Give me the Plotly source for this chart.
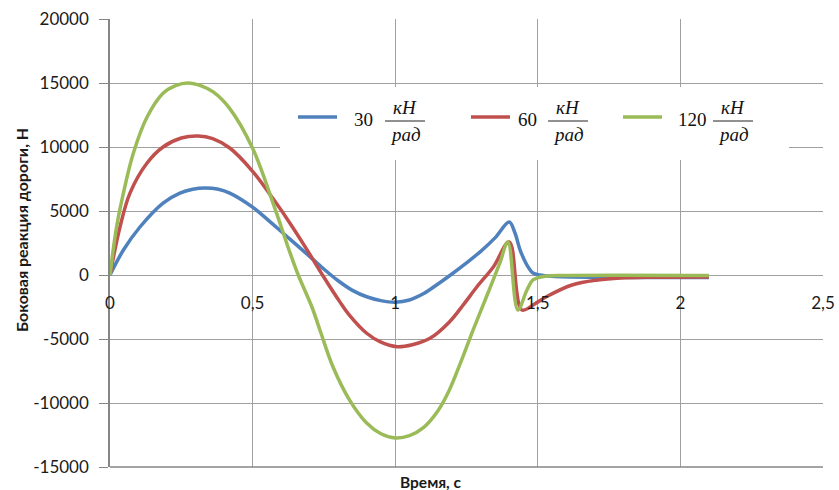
import plotly.graph_objects as go

# ---- data ----
t_30 = [0, 0.047, 0.105, 0.186, 0.245, 0.29, 0.333, 0.38, 0.42, 0.5, 0.572, 0.631, 0.69, 0.748,
        0.80, 0.85, 0.90, 0.95, 1.0, 1.05, 1.10, 1.15, 1.20, 1.25, 1.30, 1.35, 1.40, 1.42, 1.438,
        1.462, 1.483, 1.507, 1.55, 1.7, 1.9, 2.1]
v_30 = [0, 1950, 3750, 5620, 6400, 6700, 6800, 6700, 6400, 5300, 3950, 2800, 1650, 500,
        -450, -1200, -1700, -2000, -2120, -1950, -1450, -700, 100, 950, 1850, 2900, 4140, 3280, 1950,
        780, 160, 0, -100, -180, -200, -200]

t_60 = [0, 0.035, 0.07, 0.13, 0.186, 0.25, 0.31, 0.36, 0.42, 0.5, 0.572, 0.631, 0.69, 0.745, 0.806,
        0.84, 0.90, 0.95, 1.006, 1.06, 1.122, 1.19, 1.24, 1.286, 1.344, 1.40, 1.444, 1.49, 1.53, 1.62,
        1.71, 1.79, 1.9, 2.1]
v_60 = [0, 3750, 6400, 8750, 10000, 10700, 10860, 10650, 9920, 8100, 5950, 4050, 2000, 0, -2100,
        -3150, -4550, -5250, -5600, -5450, -4950, -3670, -2300, -940, 625, 2580, -2730, -2250, -1700, -780,
        -390, -230, -170, -150]

t_120 = [0, 0.023, 0.047, 0.082, 0.13, 0.186, 0.23, 0.273, 0.32, 0.362, 0.42, 0.5, 0.572, 0.631,
         0.66, 0.708, 0.736, 0.782, 0.84, 0.90, 0.95, 1.0, 1.05, 1.10, 1.15, 1.19, 1.23, 1.273, 1.32,
         1.367, 1.395, 1.43, 1.462, 1.483, 1.53, 1.6, 2.1]
v_120 = [0, 3750, 6400, 9530, 12340, 14200, 14800, 15000, 14780, 14300, 13000, 9900, 5600, 1750,
         0, -2500, -4300, -7190, -9770, -11560, -12400, -12730, -12550, -11900, -10600, -8980, -6800,
         -4300, -1700, 940, 2580, -2730, -1170, -390, -80, -30, -30]

series_names = ["30", "60", "120"]
series_colors = ["#4F81BD", "#C0504D", "#9BBB59"]

x_tickvals = [0, 0.5, 1, 1.5, 2, 2.5]
x_ticktext = ["0", "0,5", "1", "1,5", "2", "2,5"]
y_tickvals = [-15000, -10000, -5000, 0, 5000, 10000, 15000, 20000]
y_ticktext = ["-15000", "-10000", "-5000", "0", "5000", "10000", "15000", "20000"]

x_title = "Время, с"
y_title = "Боковая реакция дороги, Н"
unit_num = "кН"
unit_den = "рад"

# ---- figure ----
W, H = 839, 490
L, R, T, B = 110, 16, 19, 23
PW, PH = W - L - R, H - T - B

def px(x):
    return (x - L) / PW

def py(y):
    return (H - B - y) / PH

fig = go.Figure()
for t, v, name, col in zip([t_30, t_60, t_120], [v_30, v_60, v_120], series_names, series_colors):
    fig.add_trace(go.Scatter(x=t, y=v, mode="lines", name=name,
                             line=dict(color=col, width=3.5, shape="spline", smoothing=1.0),
                             showlegend=False))

grid = "#A0A0A0"
tick_font = dict(family="Lato", size=17, color="#1a1a1a")
fig.update_layout(
    width=W, height=H,
    margin=dict(l=L, r=R, t=T, b=B),
    paper_bgcolor="white", plot_bgcolor="white",
    font=dict(family="Lato", size=16, color="#1a1a1a"),
    xaxis=dict(range=[0, 2.5], tickvals=x_tickvals, ticktext=x_ticktext, automargin=False,
               showgrid=True, gridcolor=grid, gridwidth=1.3, zeroline=False,
               showline=False, ticks="", anchor="free", position=py(275),
               ticklabelstandoff=16, tickfont=tick_font),
    yaxis=dict(range=[-15000, 20000], tickvals=y_tickvals, ticktext=y_ticktext, automargin=False,
               showgrid=True, gridcolor=grid, gridwidth=1.3, zeroline=False,
               showline=True, linecolor="#868686", linewidth=1.5,
               ticks="outside", ticklen=9, tickcolor="#868686", tickwidth=1.3,
               ticklabelstandoff=7, tickfont=tick_font),
)

# bottom border line
fig.add_shape(type="line", xref="paper", yref="paper", x0=0, x1=1, y0=0, y1=0,
              line=dict(color="#868686", width=1.5))

# axis titles
fig.add_annotation(text="<b>" + y_title + "</b>", xref="paper", yref="paper",
                   x=px(21), y=py(230), xanchor="center", yanchor="middle",
                   textangle=-90, showarrow=False,
                   font=dict(family="Lato", size=16, color="#1a1a1a"))
fig.add_annotation(text="<b>" + x_title + "</b>", xref="paper", yref="paper",
                   x=px(430), y=py(482), xanchor="center", yanchor="middle", showarrow=False,
                   font=dict(family="Lato", size=15.5, color="#1a1a1a"))

# custom legend
fig.add_shape(type="rect", xref="paper", yref="paper", x0=px(280), x1=px(789), y0=py(160), y1=py(87),
              fillcolor="white", line=dict(width=0), layer="above")
leg_line_x = [298, 471, 623]
leg_num_x = [363, 527, 692]
leg_frac_x = [405, 568, 733]
bar_y = 121
serif = "Liberation Serif"
for i in range(3):
    fig.add_shape(type="line", xref="paper", yref="paper",
                  x0=px(leg_line_x[i]), x1=px(leg_line_x[i] + 39), y0=py(117), y1=py(117),
                  line=dict(color=series_colors[i], width=3.5), layer="above")
    fig.add_annotation(text=series_names[i], xref="paper", yref="paper",
                       x=px(leg_num_x[i]), y=py(119), xanchor="center", yanchor="middle",
                       showarrow=False, font=dict(family=serif, size=19, color="#111"))
    fig.add_shape(type="line", xref="paper", yref="paper",
                  x0=px(leg_frac_x[i] - 20), x1=px(leg_frac_x[i] + 20), y0=py(bar_y), y1=py(bar_y),
                  line=dict(color="#222", width=1), layer="above")
    fig.add_annotation(text="<i>" + unit_num + "</i>", xref="paper", yref="paper",
                       x=px(leg_frac_x[i]), y=py(bar_y - 1), xanchor="center", yanchor="bottom",
                       showarrow=False, font=dict(family=serif, size=19, color="#111"))
    fig.add_annotation(text="<i>" + unit_den + "</i>", xref="paper", yref="paper",
                       x=px(leg_frac_x[i]), y=py(bar_y + 1), xanchor="center", yanchor="top",
                       showarrow=False, font=dict(family=serif, size=19, color="#111"))

fig.write_html("out.html")
